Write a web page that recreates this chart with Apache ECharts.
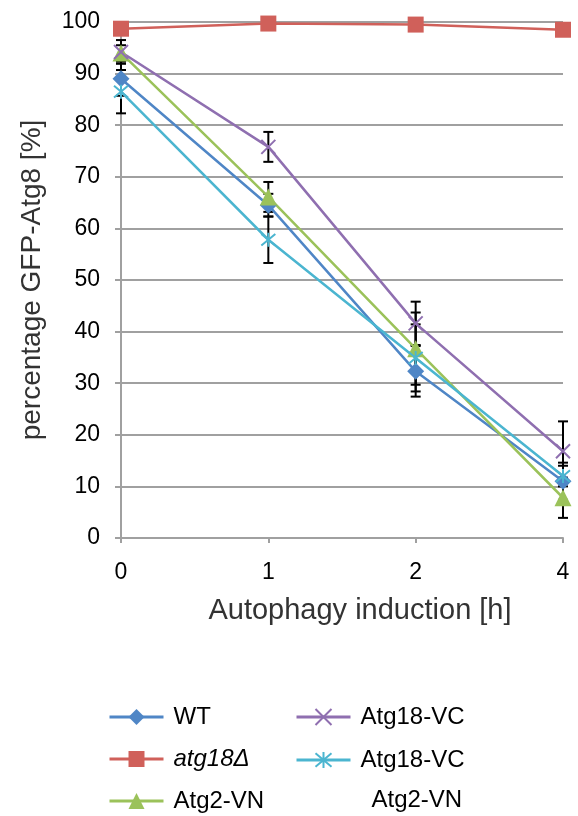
<!DOCTYPE html>
<html>
<head>
<meta charset="utf-8">
<script src="https://cdn.jsdelivr.net/npm/echarts@6/dist/echarts.min.js"></script>
<style>
  html, body { margin: 0; padding: 0; background: #fff; }
  #chart { width: 578px; height: 816px; }
</style>
</head>
<body>
<div id="chart"></div>
<script>
var hours = ['0', '1', '2', '4'];

var wt = [89.0, 64.5, 32.3, 11.0];
var atg18 = [98.7, 99.7, 99.5, 98.5];
var atg2vn = [94.0, 66.1, 36.7, 7.8];
var atg18vc = [94.2, 75.8, 41.6, 16.8];
var both = [86.5, 57.8, 34.9, 12.0];

// +/- error (same unit as values)
var wtErr = [3.3, 2.2, 4.9, 3.6];
var atg18Err = [0.5, 0.3, 0.3, 0.4];
var atg2vnErr = [1.5, 2.9, 7.0, 3.9];
var atg18vcErr = [2.3, 2.9, 4.2, 5.8];
var bothErr = [4.2, 4.5, 6.5, 2.0];

var font = 'Liberation Sans, Arial, sans-serif';
var chart = echarts.init(document.getElementById('chart'));

function errData(vals, errs) {
    var out = [];
    for (var i = 0; i < vals.length; i++) {
        out.push([i, vals[i] - errs[i], vals[i] + errs[i]]);
    }
    return out;
}

function errSeries(vals, errs) {
    return {
        type: 'custom',
        z: 1,
        silent: true,
        data: errData(vals, errs),
        renderItem: function (params, api) {
            var lo = api.coord([api.value(0), api.value(1)]);
            var hi = api.coord([api.value(0), api.value(2)]);
            var w = 5;
            var st = { stroke: '#000', lineWidth: 2 };
            return {
                type: 'group',
                children: [
                    { type: 'line', shape: { x1: lo[0], y1: lo[1], x2: hi[0], y2: hi[1] }, style: st },
                    { type: 'line', shape: { x1: lo[0] - w, y1: lo[1], x2: lo[0] + w, y2: lo[1] }, style: st },
                    { type: 'line', shape: { x1: hi[0] - w, y1: hi[1], x2: hi[0] + w, y2: hi[1] }, style: st }
                ]
            };
        }
    };
}

function lineSeries(name, vals, color, symbol, size, stroked) {
    return {
        name: name,
        type: 'line',
        z: 2,
        data: vals,
        symbol: symbol,
        symbolSize: size,
        showAllSymbol: true,
        lineStyle: { color: color, width: 2.5 },
        itemStyle: stroked
            ? { color: color, borderColor: color, borderWidth: 2 }
            : { color: color, borderWidth: 0 }
    };
}

var crossPath = 'path://M0,0L10,10M10,0L0,10';
var starPath = 'path://M0,0L10,10M10,0L0,10M5,-1L5,11';

var legendText = { fontFamily: font, fontSize: 24, color: '#000', lineHeight: 28, padding: [0, 0, 0, 5] };
var legendLine = { width: 3 };

var option = {
    animation: false,
    grid: { left: 121, right: 15, top: 22, bottom: 278 },
    legend: [
        {
            left: 108, top: 703, padding: 0, orient: 'vertical',
            itemWidth: 54, itemHeight: 20, itemGap: 14,
            lineStyle: legendLine,
            textStyle: legendText,
            data: ['WT', { name: 'atg18Δ', textStyle: { fontStyle: 'italic' } }, 'Atg2-VN']
        },
        {
            left: 295, top: 703, padding: 0, orient: 'vertical',
            itemWidth: 54, itemHeight: 20,
            lineStyle: legendLine,
            textStyle: legendText,
            data: ['Atg18-VC']
        },
        {
            left: 295, top: 700, padding: 0, orient: 'vertical',
            itemWidth: 54, itemHeight: 20,
            lineStyle: legendLine,
            textStyle: {
                fontFamily: font, fontSize: 24, color: '#000', lineHeight: 40,
                padding: [40, 0, 0, 5],
                rich: { b: { fontFamily: font, fontSize: 24, color: '#000', lineHeight: 40, padding: [0, 0, 0, 11] } }
            },
            formatter: function () { return 'Atg18-VC\n{b|Atg2-VN}'; },
            data: ['Atg18-VC Atg2-VN']
        }
    ],
    xAxis: {
        type: 'category',
        data: hours,
        boundaryGap: false,
        name: 'Autophagy induction [h]',
        nameLocation: 'middle',
        nameGap: 58,
        nameTextStyle: { fontFamily: font, fontSize: 29, color: '#333', padding: [0, 0, 0, 36] },
        axisLine: { lineStyle: { color: '#a0a0a0', width: 2 } },
        axisTick: { show: true, alignWithLabel: true, length: 5, lineStyle: { color: '#a0a0a0', width: 2 } },
        axisLabel: { fontFamily: font, fontSize: 23, color: '#000', margin: 23 },
        splitLine: { show: false }
    },
    yAxis: {
        type: 'value',
        min: 0,
        max: 100,
        interval: 10,
        name: 'percentage GFP-Atg8 [%]',
        nameLocation: 'middle',
        nameGap: 75,
        nameTextStyle: { fontFamily: font, fontSize: 28, color: '#333' },
        axisLine: { show: true, lineStyle: { color: '#a0a0a0', width: 2 } },
        axisTick: { show: true, length: 6, lineStyle: { color: '#a0a0a0', width: 2 } },
        axisLabel: { fontFamily: font, fontSize: 23, color: '#000', margin: 21 },
        splitLine: { lineStyle: { color: '#a0a0a0', width: 2 } }
    },
    series: [
        errSeries(wt, wtErr),
        errSeries(atg18, atg18Err),
        errSeries(atg2vn, atg2vnErr),
        errSeries(atg18vc, atg18vcErr),
        errSeries(both, bothErr),
        lineSeries('WT', wt, '#4f86c6', 'diamond', 17, false),
        lineSeries('atg18Δ', atg18, '#d0605a', 'rect', 16, false),
        lineSeries('Atg2-VN', atg2vn, '#9bc25a', 'triangle', 17, false),
        lineSeries('Atg18-VC', atg18vc, '#8f6fb0', crossPath, 14, true),
        lineSeries('Atg18-VC Atg2-VN', both, '#4bb5d0', starPath, 14, true)
    ]
};

chart.setOption(option);
</script>
</body>
</html>
